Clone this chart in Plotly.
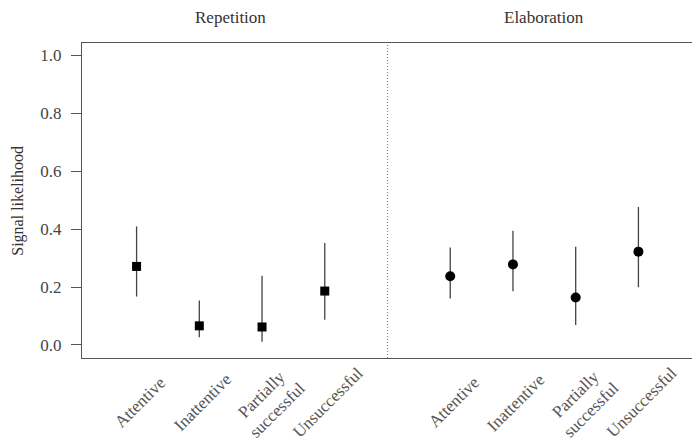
import plotly.graph_objects as go

categories = ["Attentive", "Inattentive", "Partially<br>successful", "Unsuccessful"]
groups = ["Repetition", "Elaboration"]

rep_x = [1, 2, 3, 4]
rep_mean = [0.271, 0.066, 0.062, 0.186]
rep_lower = [0.167, 0.027, 0.011, 0.087]
rep_upper = [0.409, 0.153, 0.239, 0.352]

ela_x = [6, 7, 8, 9]
ela_mean = [0.237, 0.278, 0.164, 0.322]
ela_lower = [0.160, 0.185, 0.069, 0.199]
ela_upper = [0.336, 0.394, 0.339, 0.476]

y_ticks = [0.0, 0.2, 0.4, 0.6, 0.8, 1.0]
divider_x = 5

FONT = "Liberation Serif"

fig = go.Figure()

def add_series(xs, mean, lower, upper, symbol, size):
    fig.add_trace(go.Scatter(
        x=xs, y=mean, mode="markers",
        marker=dict(symbol=symbol, size=size, color="black"),
        error_y=dict(type="data", symmetric=False,
                     array=[u - m for u, m in zip(upper, mean)],
                     arrayminus=[m - l for m, l in zip(mean, lower)],
                     thickness=1.3, width=0, color="#444"),
        showlegend=False, hoverinfo="skip",
    ))

add_series(rep_x, rep_mean, rep_lower, rep_upper, "square", 9)
add_series(ela_x, ela_mean, ela_lower, ela_upper, "circle", 10)

fig.add_shape(type="line", xref="x", yref="paper", x0=divider_x, x1=divider_x,
              y0=0, y1=1, line=dict(color="#888", width=1.2, dash="1px,2px"))

fig.add_annotation(text=groups[0], x=2.5, xref="x", y=1.08, yref="paper",
                   xanchor="center", yanchor="middle", showarrow=False, borderpad=0,
                   font=dict(family=FONT, size=17, color="#333"))
fig.add_annotation(text=groups[1], x=7.5, xref="x", y=1.08, yref="paper",
                   xanchor="center", yanchor="middle", showarrow=False, borderpad=0,
                   font=dict(family=FONT, size=17, color="#333"))
fig.add_annotation(text="Signal likelihood", x=-0.106, xref="paper", y=0.5, yref="paper",
                   xanchor="center", yanchor="middle", textangle=-90, showarrow=False,
                   borderpad=0, font=dict(family=FONT, size=16, color="#333"))

# rotated category labels, centred under each position
for xv, lab in zip(rep_x + ela_x, categories + categories):
    multi = "<br>" in lab
    fig.add_annotation(text=lab, x=xv, xref="x", y=0, yref="paper",
                       xanchor="center", yanchor="middle",
                       xshift=7 if multi else 3, yshift=-44,
                       textangle=-45, align="center", showarrow=False,
                       font=dict(family=FONT, size=17, color="#555"))

# page body has an 8px margin, so the figure is sized/offset to compensate
fig.update_layout(
    width=692, height=437,
    margin=dict(l=74, r=7, t=35, b=87),
    paper_bgcolor="white", plot_bgcolor="white",
    showlegend=False,
)
fig.update_xaxes(
    range=[0.13, 9.87], showticklabels=False, ticks="",
    showgrid=False, zeroline=False, automargin=False,
    showline=True, linecolor="#555", linewidth=1.3, mirror=True,
)
fig.update_yaxes(
    range=[-0.045, 1.042], tickmode="array", tickvals=y_ticks,
    ticktext=[f"{v:.1f}" for v in y_ticks], automargin=False,
    ticks="outside", ticklen=10, tickcolor="#555", tickwidth=1.2,
    showgrid=False, zeroline=False,
    showline=True, linecolor="#555", linewidth=1.3, mirror=True,
    tickfont=dict(family=FONT, size=17, color="#444"),
    ticklabelstandoff=6,
)

fig.write_html("out.html")
